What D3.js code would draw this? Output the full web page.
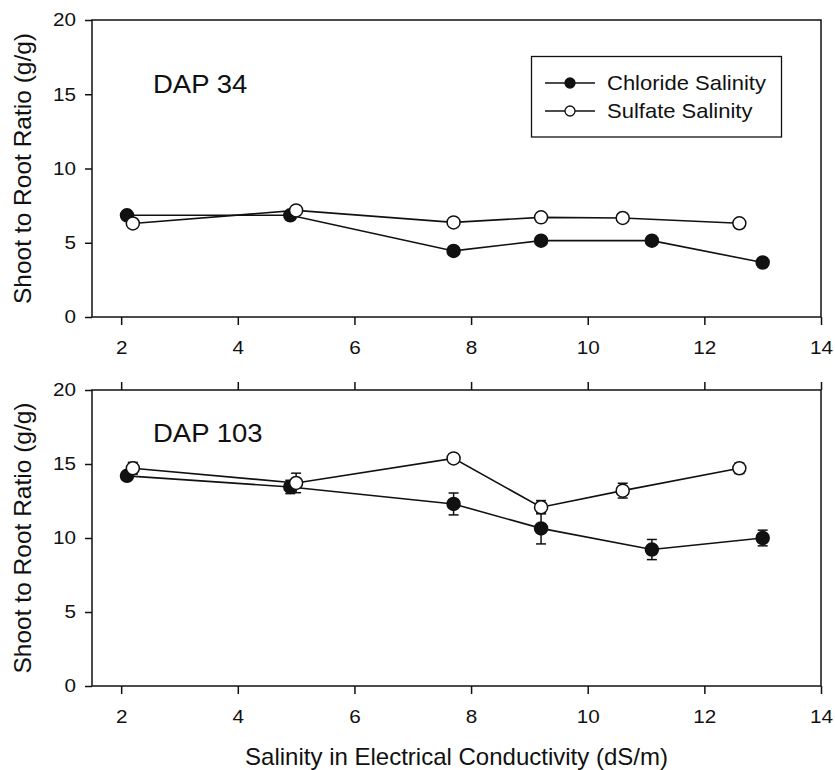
<!DOCTYPE html>
<html>
<head>
<meta charset="utf-8">
<script src="https://cdn.jsdelivr.net/npm/d3@7"></script>
<style>
  html, body { margin: 0; padding: 0; background: #fff; }
  svg { display: block; }
  text { font-family: "Liberation Sans", Arial, Helvetica, sans-serif; fill: #111; }
</style>
</head>
<body>
<svg id="chart" width="835" height="770"></svg>
<script>
// ---- data ----
const xChloride = [2.1, 4.9, 7.7, 9.2, 11.1, 13.0];
const xSulfate  = [2.2, 5.0, 7.7, 9.2, 10.6, 12.6];

const dap34Chloride = [6.85, 6.85, 4.45, 5.14, 5.14, 3.67];
const dap34Sulfate  = [6.30, 7.18, 6.37, 6.71, 6.67, 6.31];

const dap103Chloride    = [14.2, 13.45, 12.3, 10.65, 9.22, 10.0];
const dap103ChlorideErr = [0.2, 0.45, 0.74, 1.05, 0.68, 0.53];
const dap103Sulfate     = [14.71, 13.72, 15.38, 12.08, 13.2, 14.71];
const dap103SulfateErr  = [0.4, 0.66, 0.2, 0.45, 0.5, 0.35];

const xTicks = [2, 4, 6, 8, 10, 12, 14];
const yTicks = [0, 5, 10, 15, 20];
const seriesNames = ["Chloride Salinity", "Sulfate Salinity"];
const panelLabels = ["DAP 34", "DAP 103"];
const xTitle = "Salinity in Electrical Conductivity (dS/m)";
const yTitle = "Shoot to Root Ratio (g/g)";

// ---- layout ----
const svg = d3.select("#chart");
const left = 92, right = 821;
const panels = [
  { top: 20, bottom: 317, label: panelLabels[0], labelY: 93,
    series: [
      { xs: xChloride, ys: dap34Chloride, err: null, fill: "#111" },
      { xs: xSulfate,  ys: dap34Sulfate,  err: null, fill: "#fff" }
    ], topTicks: false },
  { top: 390, bottom: 686, label: panelLabels[1], labelY: 442,
    series: [
      { xs: xChloride, ys: dap103Chloride, err: dap103ChlorideErr, fill: "#111" },
      { xs: xSulfate,  ys: dap103Sulfate,  err: dap103SulfateErr,  fill: "#fff" }
    ], topTicks: true }
];

const x = d3.scaleLinear().domain([1.5, 14]).range([left, right]);
const ink = "#111";
const tickSX = 1.15;

panels.forEach(p => {
  const y = d3.scaleLinear().domain([0, 20]).range([p.bottom, p.top]);
  const g = svg.append("g");

  // frame
  g.append("rect")
    .attr("x", left).attr("y", p.top)
    .attr("width", right - left).attr("height", p.bottom - p.top)
    .attr("fill", "none").attr("stroke", ink).attr("stroke-width", 1.5);

  // bottom axis
  const xa = g.append("g").attr("transform", `translate(0,${p.bottom})`)
    .call(d3.axisBottom(x).tickValues(xTicks).tickSize(8).tickSizeOuter(0).tickPadding(16.5));
  xa.select(".domain").remove();
  xa.selectAll("line").attr("stroke", ink).attr("stroke-width", 1.5);
  xa.selectAll("text").attr("font-size", 18).attr("fill", ink)
    .attr("font-family", '"Liberation Sans", Arial, sans-serif')
    .attr("transform", `scale(${tickSX},1)`);

  // top ticks (bottom panel)
  if (p.topTicks) {
    const ta = g.append("g").attr("transform", `translate(0,${p.top})`)
      .call(d3.axisTop(x).tickValues(xTicks).tickSize(8).tickSizeOuter(0).tickFormat(""));
    ta.select(".domain").remove();
    ta.selectAll("line").attr("stroke", ink).attr("stroke-width", 1.5);
  }

  // left axis
  const ya = g.append("g").attr("transform", `translate(${left},0)`)
    .call(d3.axisLeft(y).tickValues(yTicks).tickSize(7).tickSizeOuter(0).tickPadding(7));
  ya.select(".domain").remove();
  ya.selectAll("line").attr("stroke", ink).attr("stroke-width", 1.5);
  ya.selectAll("text").attr("font-size", 18).attr("fill", ink)
    .attr("font-family", '"Liberation Sans", Arial, sans-serif')
    .attr("transform", `scale(${tickSX},1)`);

  // y title
  g.append("text")
    .attr("transform", `translate(31,${(p.top + p.bottom) / 2}) rotate(-90)`)
    .attr("text-anchor", "middle")
    .attr("font-size", 24.5)
    .text(yTitle);

  // panel label
  g.append("text")
    .attr("transform", `translate(153,${p.labelY}) scale(1.1,1)`)
    .attr("font-size", 25)
    .text(p.label);

  // series
  p.series.forEach(s => {
    const pts = s.xs.map((xv, i) => ({ x: xv, y: s.ys[i], e: s.err ? s.err[i] : 0 }));
    g.append("path").datum(pts)
      .attr("fill", "none").attr("stroke", ink).attr("stroke-width", 1.6)
      .attr("d", d3.line().x(d => x(d.x)).y(d => y(d.y)));
    if (s.err) {
      const eb = g.append("g").attr("stroke", ink).attr("stroke-width", 1.5);
      pts.forEach(d => {
        const cx = x(d.x), y1 = y(d.y + d.e), y2 = y(d.y - d.e);
        eb.append("line").attr("x1", cx).attr("x2", cx).attr("y1", y1).attr("y2", y2);
        eb.append("line").attr("x1", cx - 5).attr("x2", cx + 5).attr("y1", y1).attr("y2", y1);
        eb.append("line").attr("x1", cx - 5).attr("x2", cx + 5).attr("y1", y2).attr("y2", y2);
      });
    }
    g.selectAll(null).data(pts).enter().append("circle")
      .attr("cx", d => x(d.x)).attr("cy", d => y(d.y)).attr("r", 6.5)
      .attr("fill", s.fill).attr("stroke", ink).attr("stroke-width", 1.5);
  });
});

// legend
const lg = svg.append("g");
lg.append("rect").attr("x", 531.5).attr("y", 56.5).attr("width", 250).attr("height", 80.5)
  .attr("fill", "#fff").attr("stroke", ink).attr("stroke-width", 1.3);
const legendFills = ["#111", "#fff"];
seriesNames.forEach((name, i) => {
  const yy = 83 + i * 28;
  lg.append("line").attr("x1", 545).attr("x2", 595).attr("y1", yy).attr("y2", yy)
    .attr("stroke", ink).attr("stroke-width", 1.5);
  lg.append("circle").attr("cx", 570).attr("cy", yy).attr("r", 5)
    .attr("fill", legendFills[i]).attr("stroke", ink).attr("stroke-width", 1.3);
  lg.append("text")
    .attr("transform", `translate(607,${yy + 7.2}) scale(1.1,1)`)
    .attr("font-size", 20)
    .text(name);
});

// x title
svg.append("text")
  .attr("x", (left + right) / 2).attr("y", 765)
  .attr("text-anchor", "middle")
  .attr("font-size", 24)
  .text(xTitle);
</script>
</body>
</html>
